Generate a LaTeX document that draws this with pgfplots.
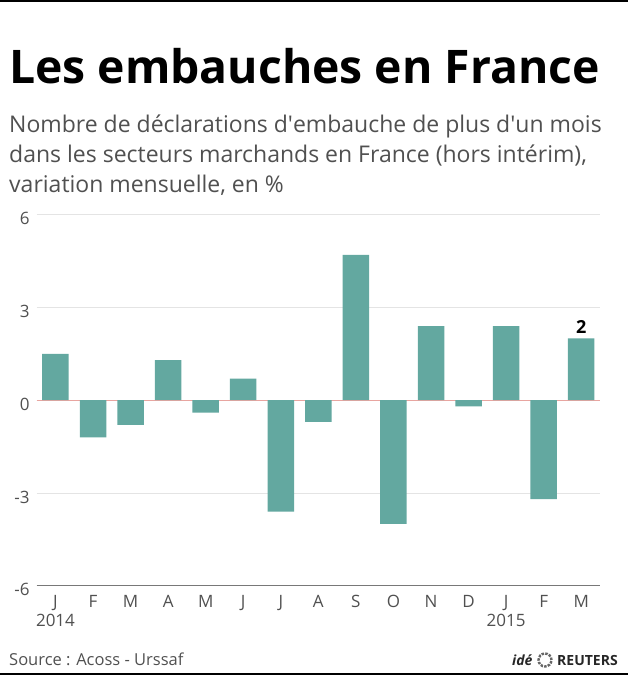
\documentclass[border=0pt]{standalone}
\usepackage{pgfplots}
\pgfplotsset{compat=1.18}
\usepackage{fontspec}
\setmainfont{Open Sans}

\definecolor{barteal}{RGB}{99,168,160}
\definecolor{txtgray}{RGB}{80,80,80}
\definecolor{gridgray}{RGB}{228,228,228}
\definecolor{zeroline}{RGB}{232,165,160}
\definecolor{baseaxis}{RGB}{120,120,120}

\begin{document}
\begin{tikzpicture}
\useasboundingbox (0pt,0pt) rectangle (628pt,-675pt);
% frame rules
\draw[line width=1.6pt] (0pt,-0.8pt) -- (628pt,-0.8pt);
\draw[line width=1.6pt] (0pt,-674.2pt) -- (628pt,-674.2pt);

% title and subtitle
\node[anchor=base west, inner sep=0pt, font=\fontsize{46.3}{47}\selectfont\bfseries] at (9pt,-83pt) {Les embauches en France};
\begin{scope}[every node/.style={anchor=base west, inner sep=0pt, text=txtgray, font=\fontsize{23}{26}\selectfont}]
\node at (9pt,-132pt) {Nombre de déclarations d\textquotesingle embauche de plus d\textquotesingle un mois};
\node at (9pt,-162pt) {dans les secteurs marchands en France (hors intérim),};
\node at (9pt,-192pt) {variation mensuelle, en \%};
\end{scope}

\begin{axis}[
  at={(36.7pt,-585.7pt)}, anchor=south west,
  scale only axis, width=563.3pt, height=371pt,
  xmin=-0.5, xmax=14.5, ymin=-6, ymax=6,
  ybar, bar width=26.5pt,
  axis line style={draw=none},
  major tick length=0pt,
  ytick={-6,-3,0,3,6},
  yticklabels={-6,-3,0,3,6},
  xtick={0,...,14},
  xticklabels={J,F,M,A,M,J,J,A,S,O,N,D,J,F,M},
  ymajorgrids, grid style={gridgray, line width=0.8pt},
  yticklabel style={font=\fontsize{17}{17}\selectfont, text=txtgray, anchor=east, inner sep=0pt, xshift=-7pt, yshift=-4pt},
  xticklabel style={font=\fontsize{17}{17}\selectfont, text=txtgray, anchor=base, inner sep=0pt, yshift=-21.3pt},
  nodes near coords,
  point meta=explicit symbolic,
  every node near coord/.style={font=\fontsize{18}{18}\selectfont\bfseries, text=black, anchor=south, yshift=1pt},
  clip=false,
]
\draw[zeroline, line width=0.8pt] (axis cs:-0.5,0) -- (axis cs:14.5,0);
\draw[baseaxis, line width=1pt] (axis cs:-0.5,-6) -- (axis cs:14.5,-6);
\addplot[fill=barteal, draw=none] coordinates {
  (0,1.5) []
  (1,-1.2) []
  (2,-0.8) []
  (3,1.3) []
  (4,-0.4) []
  (5,0.7) []
  (6,-3.6) []
  (7,-0.7) []
  (8,4.7) []
  (9,-4.0) []
  (10,2.4) []
  (11,-0.2) []
  (12,2.4) []
  (13,-3.2) []
  (14,2.0) [2]
};
\node[anchor=base, inner sep=0pt, text=txtgray, font=\fontsize{17}{17}\selectfont] at (axis cs:0,-6) [yshift=-40.3pt] {2014};
\node[anchor=base, inner sep=0pt, text=txtgray, font=\fontsize{17}{17}\selectfont] at (axis cs:12,-6) [yshift=-40.3pt] {2015};
\end{axis}

% footer
\node[anchor=base west, inner sep=0pt, text=txtgray, font=\fontsize{16.5}{17}\selectfont] at (9pt,-665pt) {Source : Acoss - Urssaf};
\node[anchor=base west, inner sep=0pt, text=black!85, font=\fontsize{14}{14}\selectfont\bfseries\itshape] at (512pt,-665pt) {idé};
\draw[black!60, line width=2.4pt, dash pattern=on 2.5pt off 1.2pt] (545pt,-660pt) circle (6.5pt);
\node[anchor=base west, inner sep=0pt, text=black!85, font=\fontsize{14}{14}\selectfont\bfseries] at (557pt,-665pt) {REUTERS};
\end{tikzpicture}
\end{document}
